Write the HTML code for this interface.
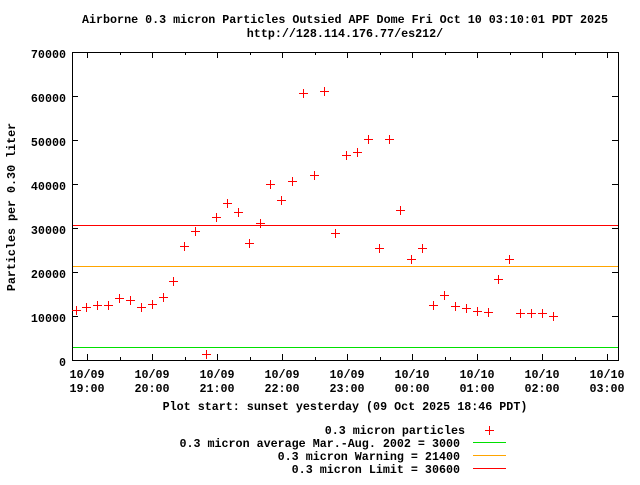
<!DOCTYPE html>
<html><head><meta charset="utf-8"><style>
html,body{margin:0;padding:0;background:#fff}
svg text{font-family:"Liberation Mono","DejaVu Sans Mono",monospace;font-weight:bold;font-size:11.7px;fill:#000}
</style></head><body>
<svg width="640" height="480" xmlns="http://www.w3.org/2000/svg">
<text x="345" y="23" text-anchor="middle">Airborne 0.3 micron Particles Outsied APF Dome Fri Oct 10 03:10:01 PDT 2025</text>
<text x="345" y="37" text-anchor="middle">http://128.114.176.77/es212/</text>
<g stroke="#000" stroke-width="1" fill="none" shape-rendering="crispEdges">
<rect x="72.5" y="52.5" width="546" height="308"/>
<path d="M72 96.5h6M72 140.5h6M72 184.5h6M72 228.5h6M72 272.5h6M72 316.5h6M618 96.5h-6M618 140.5h-6M618 184.5h-6M618 228.5h-6M618 272.5h-6M618 316.5h-6"/>
<path d="M87.5 360v-6M152.5 360v-6M217.5 360v-6M282.5 360v-6M347.5 360v-6M412.5 360v-6M477.5 360v-6M542.5 360v-6M607.5 360v-6
M120.5 360v-3M185.5 360v-3M250.5 360v-3M315.5 360v-3M380.5 360v-3M445.5 360v-3M510.5 360v-3M575.5 360v-3
M87.5 52v6M152.5 52v6M217.5 52v6M282.5 52v6M347.5 52v6M412.5 52v6M477.5 52v6M542.5 52v6M607.5 52v6
M120.5 52v3M185.5 52v3M250.5 52v3M315.5 52v3M380.5 52v3M445.5 52v3M510.5 52v3M575.5 52v3"/>
<path d="M73 347.5h545" stroke="#00e000"/>
<path d="M73 266.5h545" stroke="#ffa500"/>
<path d="M73 225.5h545" stroke="#ff0000"/>
</g>
<g text-anchor="end">
<text x="66" y="58">70000</text><text x="66" y="102">60000</text><text x="66" y="146">50000</text>
<text x="66" y="190">40000</text><text x="66" y="234">30000</text><text x="66" y="278">20000</text>
<text x="66" y="322">10000</text><text x="66" y="366">0</text>
</g>
<text transform="translate(15,207) rotate(-90)" text-anchor="middle">Particles per 0.30 liter</text>
<g text-anchor="middle">
<text x="87" y="378">10/09</text><text x="87" y="392">19:00</text>
<text x="152" y="378">10/09</text><text x="152" y="392">20:00</text>
<text x="217" y="378">10/09</text><text x="217" y="392">21:00</text>
<text x="282" y="378">10/09</text><text x="282" y="392">22:00</text>
<text x="347" y="378">10/09</text><text x="347" y="392">23:00</text>
<text x="412" y="378">10/10</text><text x="412" y="392">00:00</text>
<text x="477" y="378">10/10</text><text x="477" y="392">01:00</text>
<text x="542" y="378">10/10</text><text x="542" y="392">02:00</text>
<text x="607" y="378">10/10</text><text x="607" y="392">03:00</text>
<text x="345" y="410">Plot start: sunset yesterday (09 Oct 2025 18:46 PDT)</text>
</g>
<g text-anchor="end">
<text x="465" y="434">0.3 micron particles</text>
<text x="460" y="447">0.3 micron average Mar.-Aug. 2002 = 3000</text>
<text x="460" y="460">0.3 micron Warning = 21400</text>
<text x="460" y="473">0.3 micron Limit = 30600</text>
</g>
<g stroke-width="1" shape-rendering="crispEdges">
<path d="M473 442.5h33" stroke="#00e000"/>
<path d="M473 455.5h33" stroke="#ffa500"/>
<path d="M473 468.5h33" stroke="#ff0000"/>
</g>
<g stroke="#f00" stroke-width="1" fill="none" shape-rendering="crispEdges" id="pts"></g>
<script>
var p=[[489,430],[76,310],[86,307],[97,305],[108,305],[119,298],[130,300],[141,307],[152,304],[163,297],[173,281],[184,246],[195,231],[206,354],[216,217],[227,203],[238,212],[249,243],[260,223],[270,184],[281,200],[292,181],[303,93],[314,175],[324,91],[335,233],[346,155],[357,152],[368,139],[379,248],[389,139],[400,210],[411,259],[422,248],[433,305],[444,295],[455,306],[466,308],[477,311],[488,312],[498,279],[509,259],[520,313],[531,313],[542,313],[553,316]];
var d="";p.forEach(function(a){d+="M"+(a[0]-4)+" "+(a[1]+0.5)+"h9M"+(a[0]+0.5)+" "+(a[1]-4)+"v9";});
var e=document.createElementNS("http://www.w3.org/2000/svg","path");e.setAttribute("d",d);document.getElementById("pts").appendChild(e);
</script>
</svg>
</body></html>
